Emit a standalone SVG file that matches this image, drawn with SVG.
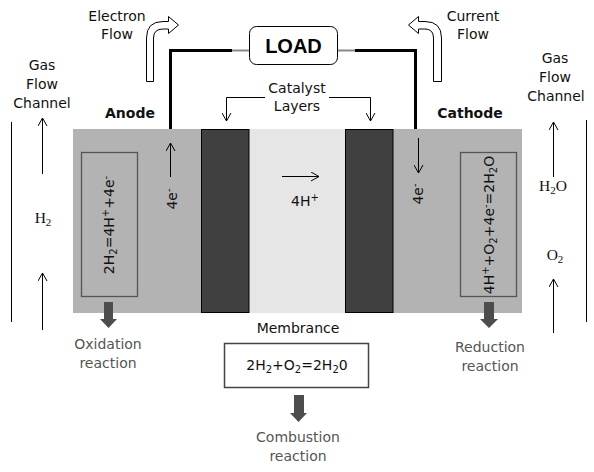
<svg xmlns="http://www.w3.org/2000/svg" width="594" height="472" viewBox="0 0 594 472">
<defs>
<marker id="open" viewBox="0 0 10 10" refX="9" refY="5" markerWidth="10" markerHeight="10" markerUnits="userSpaceOnUse" orient="auto">
<polyline points="1,0.5 9,5 1,9.5" fill="none" stroke="#000" stroke-width="1"/>
</marker>
</defs>
<style>
.t{font-family:"DejaVu Sans",Verdana,sans-serif;font-size:14px;fill:#111;text-anchor:middle}
.g{fill:#555}
.b{font-weight:bold}
.s{font-family:"Liberation Serif","Times New Roman",serif;font-size:15.5px;fill:#111;text-anchor:middle}
.ln{stroke:#000;stroke-width:1;fill:none}
.ar{stroke:#000;stroke-width:1;fill:none;marker-end:url(#open)}
.dk{fill:#4d4d4d}
.hollow{fill:#fff;stroke:#000;stroke-width:1}
</style>
<rect width="594" height="472" fill="#fff"/>

<g id="cell">
<rect x="73" y="129" width="449" height="184" fill="#b3b3b3"/>
<rect x="249" y="129" width="96" height="184" fill="#e6e6e6"/>
</g>
<g id="catalyst-left"><rect x="201.5" y="129.5" width="47.5" height="183" fill="#404040" stroke="#000" stroke-width="1"/></g>
<g id="catalyst-right"><rect x="345.5" y="129.5" width="47.5" height="183" fill="#404040" stroke="#000" stroke-width="1"/></g>

<g id="anode-reaction">
<rect x="81.5" y="152.5" width="56" height="144" fill="none" stroke="#555" stroke-width="1.3"/>
<text class="t" transform="translate(114,225) rotate(-90)">2H<tspan font-size="10" dy="3">2</tspan><tspan dy="-3">=4H</tspan><tspan font-size="10" dy="-5">+</tspan><tspan dy="5">+4e</tspan><tspan font-size="10" dy="-5">-</tspan></text>
</g>
<g id="cathode-reaction">
<rect x="460.5" y="152.5" width="56" height="144" fill="none" stroke="#555" stroke-width="1.3"/>
<text class="t" transform="translate(494,225) rotate(-90)">4H<tspan font-size="10" dy="-5">+</tspan><tspan dy="5">+O</tspan><tspan font-size="10" dy="3">2</tspan><tspan dy="-3">+4e</tspan><tspan font-size="10" dy="-5">-</tspan><tspan dy="5">=2H</tspan><tspan font-size="10" dy="3">2</tspan><tspan dy="-3">O</tspan></text>
</g>

<g id="load">
<rect x="249.5" y="26.5" width="88" height="38" rx="7" fill="#fff" stroke="#000" stroke-width="1"/>
<text x="293.5" y="53" font-family="'Liberation Sans',Arial,sans-serif" font-weight="bold" font-size="20" text-anchor="middle" fill="#000">LOAD</text>
</g>

<g id="connectors">
<path d="M170.5,129 V50.5 H232" stroke="#000" stroke-width="3" fill="none"/>
<line x1="232" y1="50.5" x2="249" y2="50.5" stroke="#888" stroke-width="2"/>
<path d="M415.5,129 V50.5 H355" stroke="#000" stroke-width="3" fill="none"/>
<line x1="355" y1="50.5" x2="338" y2="50.5" stroke="#888" stroke-width="2"/>
<path class="ar" d="M265,97.5 H226.5 V121"/>
<path class="ar" d="M329,97.5 H370.5 V121"/>
<line class="ar" x1="170.5" y1="177" x2="170.5" y2="143"/>
<line class="ar" x1="418.5" y1="138" x2="418.5" y2="173"/>
<line class="ar" x1="282" y1="176.5" x2="319" y2="176.5"/>
<line class="ln" x1="11.5" y1="122" x2="11.5" y2="322"/>
<line class="ar" x1="42.5" y1="174" x2="42.5" y2="118"/>
<line class="ar" x1="42.5" y1="330" x2="42.5" y2="273"/>
<line class="ln" x1="586.5" y1="120" x2="586.5" y2="322"/>
<line class="ar" x1="553.5" y1="177" x2="553.5" y2="122"/>
<line class="ar" x1="553.5" y1="333" x2="553.5" y2="279"/>
<path class="dk" d="M104,302 H113 V319 H117 L108.5,328 L100,319 H104 Z"/>
<path class="dk" d="M484,302 H494 V319 H498 L489,328 L480,319 H484 Z"/>
<path class="dk" d="M294,395 H304 V413 H307 L298.5,422 L290,413 H294 Z"/>
</g>

<g id="electron-flow">
<path class="hollow" d="M146.5,81.5 V38 Q146.5,21.5 163,21.5 H168.5 V16.5 L178.5,25 L168.5,33.5 V29 H163 Q153.5,29 153.5,38 V81.5 Z"/>
<text class="t" x="117" y="21">Electron</text>
<text class="t" x="117" y="39">Flow</text>
</g>
<g id="current-flow">
<path class="hollow" d="M441.5,81.5 V38 Q441.5,21.5 425,21.5 H418.5 V16.5 L408.5,25 L418.5,33.5 V29 H425 Q433.5,29 433.5,38 V81.5 Z"/>
<text class="t" x="473" y="21">Current</text>
<text class="t" x="473" y="39">Flow</text>
</g>

<g id="labels">
<text class="t" x="42" y="70">Gas</text>
<text class="t" x="42" y="89">Flow</text>
<text class="t" x="42" y="108">Channel</text>
<text class="t" x="555" y="63">Gas</text>
<text class="t" x="555" y="82">Flow</text>
<text class="t" x="556" y="101">Channel</text>
<text class="t b" x="130" y="118">Anode</text>
<text class="t b" x="470" y="118">Cathode</text>
<text class="t" x="297" y="93">Catalyst</text>
<text class="t" x="297" y="111">Layers</text>
<text class="s" x="43" y="223">H<tspan font-size="11" dy="3">2</tspan></text>
<text class="s" x="553" y="191">H<tspan font-size="11" dy="3">2</tspan><tspan dy="-3">O</tspan></text>
<text class="s" x="555" y="260">O<tspan font-size="11" dy="3">2</tspan></text>
<text class="t" transform="translate(177,199) rotate(-90)">4e<tspan font-size="10" dy="-5">-</tspan></text>
<text class="t" transform="translate(423,194) rotate(-90)">4e<tspan font-size="10" dy="-5">-</tspan></text>
<text class="t" x="291" y="206" style="text-anchor:start">4H<tspan font-size="10" dy="-5">+</tspan></text>
<text class="t" x="298" y="333">Membrance</text>
<text class="t g" x="108" y="349">Oxidation</text>
<text class="t g" x="108" y="368">reaction</text>
<text class="t g" x="490" y="352">Reduction</text>
<text class="t g" x="490" y="371">reaction</text>
<text class="t g" x="298" y="442">Combustion</text>
<text class="t g" x="298" y="461">reaction</text>
</g>

<g id="combustion">
<rect x="224.5" y="343.5" width="144" height="44" fill="#fff" stroke="#444" stroke-width="1.5"/>
<text class="t" x="297" y="370">2H<tspan font-size="10" dy="3">2</tspan><tspan dy="-3">+O</tspan><tspan font-size="10" dy="3">2</tspan><tspan dy="-3">=2H</tspan><tspan font-size="10" dy="3">2</tspan><tspan dy="-3">0</tspan></text>
</g>
</svg>
